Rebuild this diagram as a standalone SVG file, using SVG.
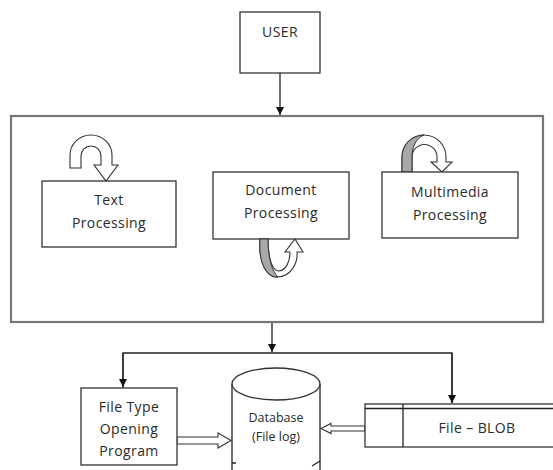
<svg xmlns="http://www.w3.org/2000/svg" width="553" height="470" viewBox="0 0 553 470">
<style>
.box{fill:#fff;stroke:#333;stroke-width:1.3}
.frame{fill:#fff;stroke:#777;stroke-width:2.2}
.t{font-family:"Open Sans","Liberation Sans",sans-serif;font-size:14px;fill:#2a2a2a;text-anchor:middle;letter-spacing:0.4px}
.ts{font-family:"Open Sans","Liberation Sans",sans-serif;font-size:12.5px;fill:#2a2a2a;text-anchor:middle}
.ln{fill:none;stroke:#222;stroke-width:1.3}
.blk{fill:#fff;stroke:#333;stroke-width:1.1}
.grey{fill:#a8a8a8;stroke:#333;stroke-width:1}
</style>
<defs>
<marker id="ah" viewBox="0 0 10 10" refX="10" refY="5" markerWidth="8" markerHeight="8" markerUnits="userSpaceOnUse" orient="auto">
<path d="M0,0 L10,5 L0,10 Z" fill="#111"/>
</marker>
</defs>
<rect class="frame" x="11" y="116" width="532" height="206"/>
<g id="user"><rect class="box" x="240" y="12" width="80" height="61"/><text class="t" x="280" y="37">USER</text></g>
<g id="text-processing">
<path class="blk" d="M70,168 L70,155 A21,20 0 0 1 112,155 L112,165 L118,165 L106,181 L94,165 L101,165 L101,156 A10,10 0 0 0 81,156 L81,168 Z"/>
<rect class="box" x="42" y="181" width="134" height="66"/>
<text class="t" x="109" y="205">Text</text><text class="t" x="109" y="228">Processing</text>
</g>
<g id="document-processing">
<rect class="box" x="213" y="172" width="136" height="67"/>
<text class="t" x="281" y="195">Document</text><text class="t" x="281" y="218">Processing</text>
<path class="blk" d="M260,239 C258,265 268,278 278,277 C292,276 298,262 297,252 L303,252 L295,239 L285,252 L290,252 C290,262 286,270 279,271 C272,271 268,258 268,239 Z"/>
<path class="grey" d="M260,239 C258,265 268,278 278,277 C272,271 268,258 268,239 Z"/>
</g>
<g id="multimedia-processing">
<path class="blk" d="M402,172 L402,157 A22,22 0 0 1 446,157 L446,162 L452,162 L442,172 L431,162 L437,162 L437,157 A12.5,12.5 0 0 0 412,157 L412,172 Z"/>
<path class="grey" d="M402,172 L402,157 A22,22 0 0 1 424,135 C416,138 412,147 412,157 L412,172 Z"/>
<rect class="box" x="382" y="172" width="136" height="66"/>
<text class="t" x="450" y="197">Multimedia</text><text class="t" x="450" y="220">Processing</text>
</g>
<g id="connectors">
<line class="ln" x1="280" y1="73" x2="280" y2="115" marker-end="url(#ah)"/>
<line class="ln" x1="272" y1="323" x2="272" y2="352" marker-end="url(#ah)"/>
<polyline class="ln" points="123,388 123,353 452,353 452,403"/>
<line class="ln" x1="123" y1="353" x2="123" y2="387" marker-end="url(#ah)"/>
<line class="ln" x1="452" y1="353" x2="452" y2="403" marker-end="url(#ah)"/>
<path class="blk" d="M177,437 L218,437 L218,433 L231,440.5 L218,448 L218,444 L177,444 Z"/>
<path class="blk" d="M365,426 L331,426 L331,423.5 L321,428.5 L331,433.5 L331,431 L365,431 Z"/>
</g>
<g id="file-type-opening-program">
<rect class="box" x="81" y="388" width="96" height="77"/>
<text class="t" x="129" y="412">File Type</text><text class="t" x="129" y="434">Opening</text><text class="t" x="129" y="456">Program</text>
</g>
<g id="database">
<path d="M232,384 L232,472 L320,472 L320,384 Z" fill="#fff"/>
<line class="ln" x1="232" y1="384" x2="232" y2="470"/>
<line class="ln" x1="320" y1="384" x2="320" y2="470"/>
<ellipse class="box" cx="276" cy="384" rx="44" ry="16"/>
<path class="ln" d="M232,463 L236,463 M312,466 L320,461"/>
<text class="ts" x="276" y="422">Database</text><text class="ts" x="276" y="441">(File log)</text>
</g>
<g id="file-blob">
<rect class="box" x="365" y="404" width="200" height="43"/>
<line class="ln" x1="365" y1="408.5" x2="553" y2="408.5"/>
<line class="ln" x1="403" y1="404" x2="403" y2="447"/>
<text class="t" x="477" y="433">File – BLOB</text>
</g>
</svg>
